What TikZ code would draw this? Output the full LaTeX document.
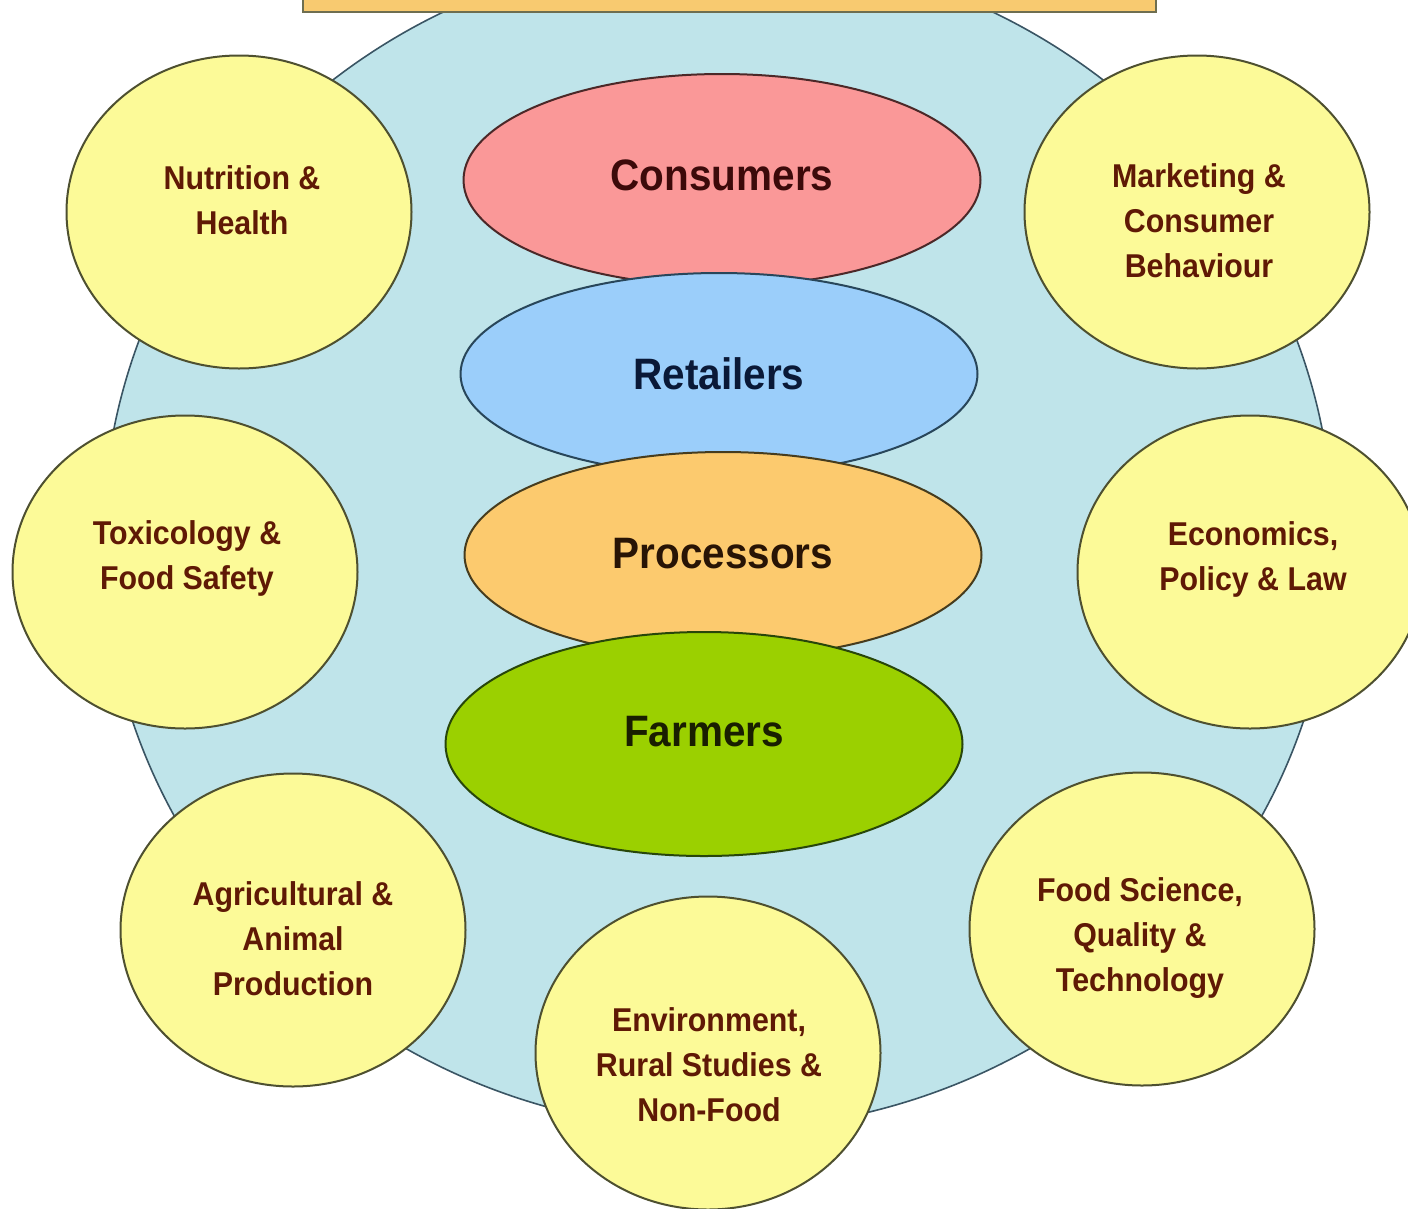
\documentclass[tikz,border=0pt]{standalone}
\usepackage{fontspec}
\setmainfont{Liberation Sans}
\newfontfamily\labfont[FakeStretch=0.92]{Liberation Sans}
\usetikzlibrary{shapes.geometric}
\definecolor{bgblue}{RGB}{191,228,234}
\definecolor{bgline}{RGB}{58,85,100}
\definecolor{satfill}{RGB}{252,250,152}
\definecolor{satline}{RGB}{78,80,48}
\definecolor{sattxt}{RGB}{95,25,5}
\definecolor{consfill}{RGB}{250,152,152}
\definecolor{consline}{RGB}{75,40,40}
\definecolor{constxt}{RGB}{60,10,10}
\definecolor{retfill}{RGB}{155,206,250}
\definecolor{retline}{RGB}{40,70,90}
\definecolor{rettxt}{RGB}{10,25,55}
\definecolor{procfill}{RGB}{252,202,110}
\definecolor{procline}{RGB}{70,60,30}
\definecolor{proctxt}{RGB}{40,20,5}
\definecolor{farmfill}{RGB}{155,208,0}
\definecolor{farmline}{RGB}{40,70,10}
\definecolor{farmtxt}{RGB}{25,30,0}
\definecolor{titlefill}{RGB}{248,202,112}
\definecolor{titleline}{RGB}{110,110,80}
\begin{document}
\begin{tikzpicture}[x=1pt,y=-1pt,
  sat/.style={ellipse, draw=satline, line width=2pt, fill=satfill,
    minimum width=345pt, minimum height=313pt, inner sep=0pt},
  sattext/.style={align=center, text=sattxt, inner sep=0pt,
    font=\labfont\bfseries\fontsize{33}{45}\selectfont},
  actor/.style={ellipse, line width=2pt, minimum width=517pt, inner sep=0pt,
    font=\labfont\bfseries\fontsize{44}{50}\selectfont}]
\useasboundingbox (0,0) rectangle (1408,1208);
\clip (0,0) rectangle (1408,1208);
% background
\node[ellipse, draw=bgline, line width=1.6pt, fill=bgblue,
  minimum width=1230pt, minimum height=1180pt, inner sep=0pt] (bg) at (718,540) {};
% title box (cut off at the top)
\node[rectangle, draw=titleline, line width=2pt, fill=titlefill,
  minimum width=853pt, minimum height=60pt, inner sep=0pt] (title) at (729.5,-18) {};
% satellite circles
\node[sat] (nut) at (239,212) {};
\node[sat] (mkt) at (1197,212) {};
\node[sat] (tox) at (185,572) {};
\node[sat] (eco) at (1250,572) {};
\node[sat] (agr) at (293,930) {};
\node[sat] (fsc) at (1142,929) {};
\node[sat] (env) at (708,1053) {};
\node[sattext] (nutT) at (242,200) {Nutrition \&\\Health};
\node[sattext] (mktT) at (1199,221) {Marketing \&\\Consumer\\Behaviour};
\node[sattext] (toxT) at (187,558) {Toxicology \&\\Food Safety};
\node[sattext] (ecoT) at (1253,559) {Economics,\\Policy \& Law};
\node[sattext] (agrT) at (293,939) {Agricultural \&\\Animal\\Production};
\node[sattext] (fscT) at (1140,938) {Food Science,\\Quality \&\\Technology};
\node[sattext] (envT) at (709,1065) {Environment,\\Rural Studies \&\\Non-Food};
% central chain
\node[actor, draw=consline, fill=consfill, text=constxt, minimum height=212pt,
  text depth=10pt] (cons) at (722,180) {Consumers};
\node[actor, draw=retline, fill=retfill, text=rettxt, minimum height=202pt]
  (ret) at (719,374) {Retailers};
\node[actor, draw=procline, fill=procfill, text=proctxt, minimum height=206pt,
  text depth=4pt] (proc) at (723,555) {Processors};
\node[actor, draw=farmline, fill=farmfill, text=farmtxt, minimum height=224pt,
  text depth=26pt] (farm) at (704,744) {Farmers};
\end{tikzpicture}
\end{document}
